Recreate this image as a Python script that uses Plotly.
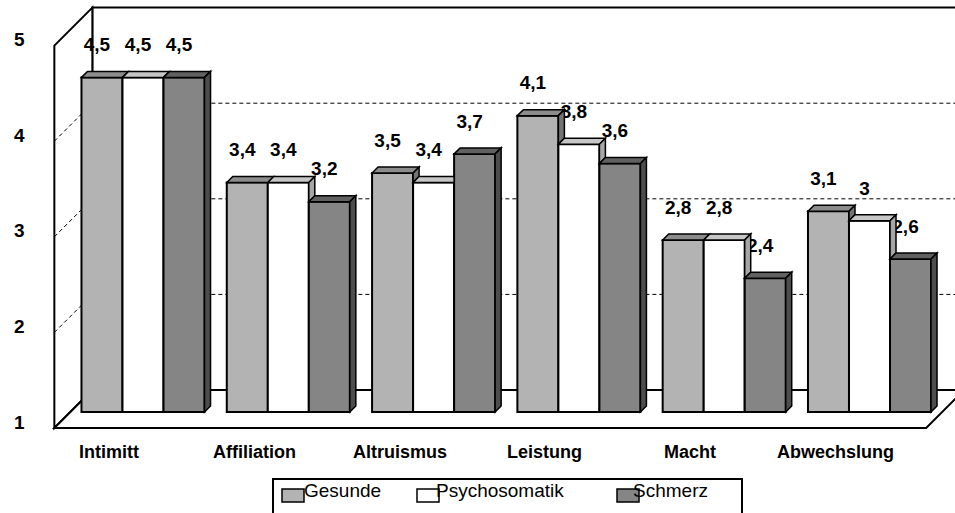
import plotly.graph_objects as go

# ---- data -------------------------------------------------------------
categories = ["Intimitt", "Affiliation", "Altruismus", "Leistung", "Macht", "Abwechslung"]
series_names = ["Gesunde", "Psychosomatik", "Schmerz"]
gesunde = [4.5, 3.4, 3.5, 4.1, 2.8, 3.1]
psychosomatik = [4.5, 3.4, 3.4, 3.8, 2.8, 3.0]
schmerz = [4.5, 3.2, 3.7, 3.6, 2.4, 2.6]
y_ticks = [1, 2, 3, 4, 5]

# ---- styling ----------------------------------------------------------
FONT = "Liberation Sans, Arial, sans-serif"
front_colors = ["#B3B3B3", "#FFFFFF", "#858585"]
top_colors = ["#8C8C8C", "#C6C6C6", "#616161"]
side_colors = ["#737373", "#A6A6A6", "#4D4D4D"]

W, H = 955, 513
PX_X = 145.3          # pixels per category step
PX_Y = 95.6           # pixels per value unit
ORIGIN_X = 143        # pixel of first category centre
ORIGIN_Y = 412        # pixel of value 1 on the bar plane
X_RANGE = [-ORIGIN_X / PX_X, (W - ORIGIN_X) / PX_X]
Y_RANGE = [1 - (H - ORIGIN_Y) / PX_Y, 1 + ORIGIN_Y / PX_Y]

BARGAP = 0.153
BAR_W = (1 - BARGAP) / 3
BAR_DEPTH = 6         # px, depth of each bar box
FRONT_D = -16         # px, floor front edge relative to bar plane
BACK_D = 22           # px, back wall relative to bar plane
X_MIN, X_MAX = -0.5, len(categories) - 0.5
V_MIN, V_MAX = y_ticks[0], y_ticks[-1]


def proj(x, v, d):
    """Shift a bar-plane point by d pixels into depth (right and up)."""
    return x + d / PX_X, v + d / PX_Y


def poly(points):
    return "M " + " L ".join(f"{x},{y}" for x, y in points) + " Z"


values = [gesunde, psychosomatik, schmerz]
fig = go.Figure()

# front faces of the bars
for j, (name, vals) in enumerate(zip(series_names, values)):
    fig.add_trace(go.Bar(
        x=list(range(len(categories))),
        y=[v - V_MIN for v in vals],
        base=V_MIN,
        name=name,
        marker=dict(color=front_colors[j], line=dict(color="black", width=2)),
        hoverinfo="skip",
    ))

# value labels above each bar
for j, vals in enumerate(values):
    off = (j - 1) * BAR_W
    fig.add_trace(go.Scatter(
        x=[i + off - 5 / PX_X for i in range(len(vals))],
        y=[v + 31 / PX_Y for v in vals],
        mode="text",
        text=[f"{v:g}".replace(".", ",") for v in vals],
        textposition="middle center",
        textfont=dict(family=FONT, size=19, color="black", weight="bold"),
        hoverinfo="skip",
    ))

shapes = []
wall_line = dict(color="black", width=2)

# back wall
bx0, by0 = proj(X_MIN, V_MIN, BACK_D)
bx1, by1 = proj(X_MAX, V_MAX, BACK_D)
shapes.append(dict(type="rect", xref="x", yref="y", x0=bx0, y0=by0, x1=bx1, y1=by1,
                   fillcolor="white", line=wall_line, layer="below"))
# left side wall
shapes.append(dict(type="path", xref="x", yref="y", layer="below", fillcolor="white",
                   line=wall_line,
                   path=poly([proj(X_MIN, V_MIN, FRONT_D), proj(X_MIN, V_MAX, FRONT_D),
                              proj(X_MIN, V_MAX, BACK_D), proj(X_MIN, V_MIN, BACK_D)])))
# floor
shapes.append(dict(type="path", xref="x", yref="y", layer="below", fillcolor="white",
                   line=wall_line,
                   path=poly([proj(X_MIN, V_MIN, FRONT_D), proj(X_MAX, V_MIN, FRONT_D),
                              proj(X_MAX, V_MIN, BACK_D), proj(X_MIN, V_MIN, BACK_D)])))
# dashed grid lines on side and back wall
grid_line = dict(color="black", width=1, dash="4px,3px")
for v in y_ticks[1:-1]:
    fx, fy = proj(X_MIN, v, FRONT_D)
    kx, ky = proj(X_MIN, v, BACK_D)
    ex, ey = proj(X_MAX, v, BACK_D)
    shapes.append(dict(type="line", xref="x", yref="y", x0=fx, y0=fy, x1=kx, y1=ky,
                       line=grid_line, layer="below"))
    shapes.append(dict(type="line", xref="x", yref="y", x0=kx, y0=ky, x1=ex, y1=ey,
                       line=grid_line, layer="below"))

# top and side faces of the bar boxes
dx, dy = BAR_DEPTH / PX_X, BAR_DEPTH / PX_Y
face_line = dict(color="black", width=1.5)
for i in range(len(categories)):
    for j in range(3):
        v = values[j][i]
        xl = i + (j - 1) * BAR_W - BAR_W / 2
        xr = xl + BAR_W
        v_next = values[j + 1][i] if j < 2 else None
        if v_next is not None and v_next > v:
            top = [(xl, v), (xl + dx, v + dy), (xr, v + dy), (xr, v)]
        else:
            top = [(xl, v), (xl + dx, v + dy), (xr + dx, v + dy), (xr, v)]
        shapes.append(dict(type="path", xref="x", yref="y", layer="above",
                           fillcolor=top_colors[j], line=face_line, path=poly(top)))
        if v_next is None:
            side = [(xr, V_MIN), (xr, v), (xr + dx, v + dy), (xr + dx, V_MIN + dy)]
        elif v > v_next:
            side = [(xr, v_next), (xr, v), (xr + dx, v + dy), (xr + dx, v_next + dy)]
        else:
            side = None
        if side:
            shapes.append(dict(type="path", xref="x", yref="y", layer="above",
                               fillcolor=side_colors[j], line=face_line, path=poly(side)))

# legend frame and swatches (pixel positions converted to paper units)
def px(x):
    return x / W


def py(y):
    return 1 - y / H


shapes.append(dict(type="rect", xref="paper", yref="paper", x0=px(273), x1=px(742),
                   y0=py(479), y1=py(530), line=dict(color="black", width=2),
                   fillcolor="white", layer="above"))
legend_swatch_x = [282, 417, 617]
legend_text_x = [303, 435, 632]
for j in range(3):
    shapes.append(dict(type="rect", xref="paper", yref="paper",
                       x0=px(legend_swatch_x[j]), x1=px(legend_swatch_x[j] + 22),
                       y0=py(502), y1=py(489), fillcolor=front_colors[j],
                       line=dict(color="black", width=1.5), layer="above"))

annotations = []
for j, name in enumerate(series_names):
    annotations.append(dict(xref="paper", yref="paper", x=px(legend_text_x[j]), y=py(490),
                            xanchor="left", yanchor="middle", text=name, showarrow=False,
                            borderpad=0, font=dict(family=FONT, size=19, color="black")))

# category labels along the floor edge
for i, cat in enumerate(categories):
    annotations.append(dict(xref="x", yref="y", x=i, y=V_MIN, xshift=-34, yshift=-40,
                            text=cat, showarrow=False, xanchor="center", yanchor="middle",
                            font=dict(family=FONT, size=18, color="black", weight="bold")))

# value axis labels
for t in y_ticks:
    annotations.append(dict(xref="paper", yref="y", x=px(19), y=t, yshift=-10,
                            text=str(t), showarrow=False, xanchor="center", yanchor="middle",
                            font=dict(family=FONT, size=19, color="black", weight="bold")))

fig.update_layout(
    width=W, height=H,
    margin=dict(l=0, r=0, t=0, b=0),
    paper_bgcolor="white", plot_bgcolor="white",
    barmode="group", bargap=BARGAP, bargroupgap=0,
    showlegend=False,
    xaxis=dict(range=X_RANGE, visible=False, fixedrange=True),
    yaxis=dict(range=Y_RANGE, visible=False, fixedrange=True),
    shapes=shapes,
    annotations=annotations,
)

fig.write_html("out.html")
